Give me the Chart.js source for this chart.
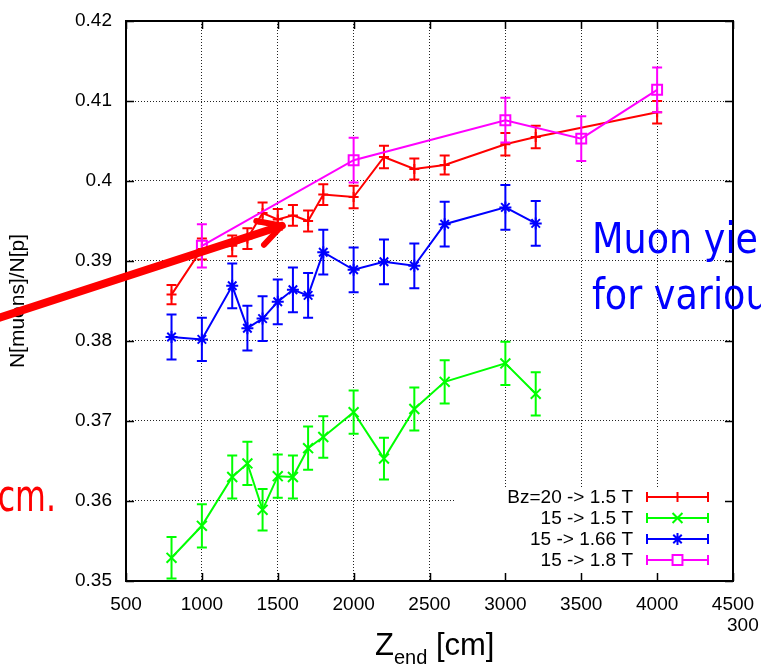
<!DOCTYPE html>
<html lang="en">
<head>
<meta charset="UTF-8">
<title>Muon yield vs Z_end</title>
<script src="https://cdn.jsdelivr.net/npm/chart.js@4"></script>
<style>
  body { margin: 0; background: #fff; }
  #wrap { position: relative; width: 761px; height: 670px; overflow: hidden; }
  .note { position: absolute; white-space: nowrap; }
</style>
</head>
<body>
<div id="wrap">
  <canvas id="muonChart"></canvas>
  <div class="note" style="left:592px; top:218px; font:42px 'DejaVu Sans'; line-height:42px; color:#0000ff; transform:scaleX(0.87); transform-origin:left;">Muon yield</div>
  <div class="note" style="left:592px; top:274px; font:42px 'DejaVu Sans'; line-height:42px; color:#0000ff; transform:scaleX(0.87); transform-origin:left;">for various</div>
  <div class="note" style="right:705px; top:474px; font:44px 'DejaVu Sans'; line-height:44px; color:#ff0000; transform:scaleX(0.72); transform-origin:right;">cm.</div>
  <div class="note" style="left:727px; top:614px; font:19px 'Liberation Sans'; line-height:22px; color:#000;">300</div>
  <div class="note" style="left:375px; top:629px; font:31px 'Liberation Sans'; line-height:31px; color:#000;">Z<span style="font-size:20px; vertical-align:-9px;">end</span> [cm]</div>
</div>

<script>
// data
const xTickLabels = ['500', '1000', '1500', '2000', '2500', '3000', '3500', '4000', '4500'];
const yTickLabels = ['0.35', '0.36', '0.37', '0.38', '0.39', '0.4', '0.41', '0.42'];

const seriesNames = ['Bz=20 -> 1.5 T', '15 -> 1.5 T', '15 -> 1.66 T', '15 -> 1.8 T'];

const zRed = [800, 1000, 1200, 1300, 1400, 1500, 1600, 1700, 1800, 2000, 2200, 2400, 2600, 3000, 3200, 4000];
const yRed = [0.3858, 0.3915, 0.3919, 0.3928, 0.3960, 0.3952, 0.3957, 0.3950, 0.3983, 0.3980, 0.4030, 0.4015, 0.4020, 0.4046, 0.4055, 0.4086];
const eRed = [0.0012, 0.0013, 0.0013, 0.0013, 0.0013, 0.0013, 0.0013, 0.0013, 0.0013, 0.0014, 0.0014, 0.0013, 0.0012, 0.0014, 0.0014, 0.0014];

const zGreen = [800, 1000, 1200, 1300, 1400, 1500, 1600, 1700, 1800, 2000, 2200, 2400, 2600, 3000, 3200];
const yGreen = [0.3529, 0.3569, 0.3630, 0.3647, 0.3589, 0.3631, 0.3630, 0.3666, 0.3680, 0.3711, 0.3653, 0.3715, 0.3749, 0.3772, 0.3734];
const eGreen = [0.0026, 0.0027, 0.0027, 0.0027, 0.0026, 0.0027, 0.0027, 0.0027, 0.0026, 0.0027, 0.0026, 0.0027, 0.0027, 0.0027, 0.0027];

const zBlue = [800, 1000, 1200, 1300, 1400, 1500, 1600, 1700, 1800, 2000, 2200, 2400, 2600, 3000, 3200];
const yBlue = [0.3805, 0.3802, 0.3869, 0.3816, 0.3828, 0.3849, 0.3864, 0.3857, 0.3911, 0.3889, 0.3899, 0.3894, 0.3946, 0.3967, 0.3947];
const eBlue = [0.0028, 0.0027, 0.0028, 0.0028, 0.0028, 0.0028, 0.0028, 0.0028, 0.0028, 0.0028, 0.0028, 0.0028, 0.0028, 0.0028, 0.0028];

const zMagenta = [1000, 2000, 3000, 3500, 4000];
const yMagenta = [0.3919, 0.4026, 0.4076, 0.4053, 0.4114];
const eMagenta = [0.0027, 0.0028, 0.0028, 0.0028, 0.0028];

// slide annotation arrow, in data units
const arrowFrom = [-400, 0.3825];
const arrowTo = [1527, 0.3944];

function pts(xs, ys) {
  return xs.map((x, i) => ({ x: x, y: ys[i] }));
}

function makeSet(i, xs, ys, errs, color, style, radius, order) {
  return {
    label: seriesNames[i],
    data: pts(xs, ys),
    err: errs,
    borderColor: color,
    backgroundColor: color,
    borderWidth: 2,
    showLine: true,
    tension: 0,
    pointStyle: style,
    pointRadius: radius,
    pointBorderWidth: 2,
    pointBackgroundColor: style === 'rect' ? 'rgba(0,0,0,0)' : color,
    order: order
  };
}

// draw a gnuplot-style point marker
function marker(ctx, style, x, y, r) {
  ctx.beginPath();
  if (style === 'cross' || style === 'star') {
    ctx.moveTo(x - r, y); ctx.lineTo(x + r, y);
    ctx.moveTo(x, y - r); ctx.lineTo(x, y + r);
  }
  if (style === 'crossRot' || style === 'star') {
    const d = r * 0.707;
    ctx.moveTo(x - d, y - d); ctx.lineTo(x + d, y + d);
    ctx.moveTo(x - d, y + d); ctx.lineTo(x + d, y - d);
  }
  if (style === 'rect') {
    const s = r * 0.707;
    ctx.rect(x - s, y - s, 2 * s, 2 * s);
  }
  ctx.stroke();
}

const errorBars = {
  id: 'errorBars',
  afterDatasetDraw(chart, args) {
    const ds = chart.data.datasets[args.index];
    const ys = chart.scales.y;
    const ctx = chart.ctx;
    ctx.save();
    ctx.strokeStyle = ds.borderColor;
    ctx.lineWidth = 2;
    args.meta.data.forEach((p, i) => {
      const v = ds.data[i].y;
      const top = ys.getPixelForValue(v + ds.err[i]);
      const bot = ys.getPixelForValue(v - ds.err[i]);
      ctx.beginPath();
      ctx.moveTo(p.x, top); ctx.lineTo(p.x, bot);
      ctx.moveTo(p.x - 5, top); ctx.lineTo(p.x + 5, top);
      ctx.moveTo(p.x - 5, bot); ctx.lineTo(p.x + 5, bot);
      ctx.stroke();
    });
    ctx.restore();
  }
};

const frame = {
  id: 'frame',
  beforeDatasetsDraw(chart) {
    // blank box behind the key
    const a = chart.chartArea;
    const ctx = chart.ctx;
    ctx.save();
    ctx.fillStyle = '#fff';
    ctx.fillRect(a.left + 329, a.bottom - 94, a.right - a.left - 329, 94);
    ctx.restore();
  },
  afterDraw(chart) {
    const a = chart.chartArea;
    const ctx = chart.ctx;
    const xs = chart.scales.x, ys = chart.scales.y;
    ctx.save();
    ctx.strokeStyle = '#000';
    ctx.lineWidth = 1.5;
    ctx.beginPath();
    xs.ticks.forEach(t => {
      const px = Math.round(xs.getPixelForValue(t.value)) + 0.5;
      ctx.moveTo(px, a.bottom); ctx.lineTo(px, a.bottom - 8);
      ctx.moveTo(px, a.top); ctx.lineTo(px, a.top + 8);
    });
    ys.ticks.forEach(t => {
      const py = Math.round(ys.getPixelForValue(t.value)) + 0.5;
      ctx.moveTo(a.left, py); ctx.lineTo(a.left + 8, py);
      ctx.moveTo(a.right, py); ctx.lineTo(a.right - 8, py);
    });
    ctx.stroke();
    ctx.lineWidth = 2;
    ctx.strokeRect(a.left, a.top, a.right - a.left, a.bottom - a.top);

    // key, text right-aligned with a sample on its right
    ctx.font = "19px 'Liberation Sans'";
    ctx.textAlign = 'right';
    ctx.textBaseline = 'middle';
    chart.data.datasets.forEach((ds, i) => {
      const y = a.bottom - 84 + i * 21;
      const x1 = a.right - 86, x2 = a.right - 25;
      ctx.fillStyle = '#000';
      ctx.fillText(ds.label, a.right - 100, y + 1);
      ctx.strokeStyle = ds.borderColor;
      ctx.lineWidth = 2;
      ctx.beginPath();
      ctx.moveTo(x1, y); ctx.lineTo(x2, y);
      ctx.moveTo(x1, y - 5); ctx.lineTo(x1, y + 5);
      ctx.moveTo(x2, y - 5); ctx.lineTo(x2, y + 5);
      ctx.stroke();
      if (ds.pointStyle === 'rect') {
        ctx.fillStyle = '#fff';
        const s = ds.pointRadius * 0.707;
        ctx.fillRect((x1 + x2) / 2 - s, y - s, 2 * s, 2 * s);
      }
      marker(ctx, ds.pointStyle, (x1 + x2) / 2, y, ds.pointRadius);
    });

    // red arrow pasted over the plot on the slide
    const fx = xs.getPixelForValue(arrowFrom[0]), fy = ys.getPixelForValue(arrowFrom[1]);
    const tx = xs.getPixelForValue(arrowTo[0]), ty = ys.getPixelForValue(arrowTo[1]);
    const ang = Math.atan2(ty - fy, tx - fx);
    ctx.strokeStyle = '#ff0000';
    ctx.lineCap = 'round';
    ctx.lineWidth = 8;
    ctx.beginPath();
    ctx.moveTo(fx, fy); ctx.lineTo(tx, ty);
    ctx.stroke();
    ctx.lineWidth = 6;
    ctx.beginPath();
    [0.5, -0.5].forEach(d => {
      ctx.moveTo(tx, ty);
      ctx.lineTo(tx - 26 * Math.cos(ang + d), ty - 26 * Math.sin(ang + d));
    });
    ctx.stroke();
    ctx.restore();
  }
};

// keep the label overhang out of the layout so the plot box sits where the padding says
function noOverhang(s) {
  s.paddingTop = 0; s.paddingBottom = 0; s.paddingLeft = 0; s.paddingRight = 0;
}

const ctx = document.getElementById('muonChart').getContext('2d');
new Chart(ctx, {
  type: 'scatter',
  data: {
    datasets: [
      makeSet(0, zRed, yRed, eRed, '#ff0000', 'cross', 5, 3),
      makeSet(1, zGreen, yGreen, eGreen, '#00ff00', 'crossRot', 7, 2),
      makeSet(2, zBlue, yBlue, eBlue, '#0000ff', 'star', 6, 1),
      makeSet(3, zMagenta, yMagenta, eMagenta, '#ff00ff', 'rect', 7, 0)
    ]
  },
  options: {
    responsive: true,
    maintainAspectRatio: false,
    animation: false,
    layout: { padding: { top: 21, right: 28, left: 0, bottom: 0 } },
    plugins: { legend: { display: false }, tooltip: { enabled: false } },
    scales: {
      x: {
        type: 'linear',
        min: 500, max: 4500,
        ticks: {
          stepSize: 500,
          padding: 12,
          color: '#000',
          font: { family: 'Liberation Sans', size: 19 },
          maxRotation: 0,
          callback: (v, i) => xTickLabels[i]
        },
        grid: { color: '#222', lineWidth: 1, drawTicks: false },
        border: { display: false, dash: [1, 2] },
        afterFit: s => { s.height = 89; noOverhang(s); }
      },
      y: {
        min: 0.35, max: 0.42,
        ticks: {
          stepSize: 0.01,
          padding: 14,
          color: '#000',
          font: { family: 'Liberation Sans', size: 19 },
          callback: (v, i) => yTickLabels[i]
        },
        grid: { color: '#222', lineWidth: 1, drawTicks: false },
        border: { display: false, dash: [1, 2] },
        title: {
          display: true,
          text: 'N[muons]/N[p]',
          color: '#000',
          font: { family: 'Liberation Sans', size: 21 },
          padding: { top: 6, bottom: 0 }
        },
        afterFit: s => { s.width = 126; noOverhang(s); }
      }
    }
  },
  plugins: [errorBars, frame]
});
</script>
</body>
</html>
